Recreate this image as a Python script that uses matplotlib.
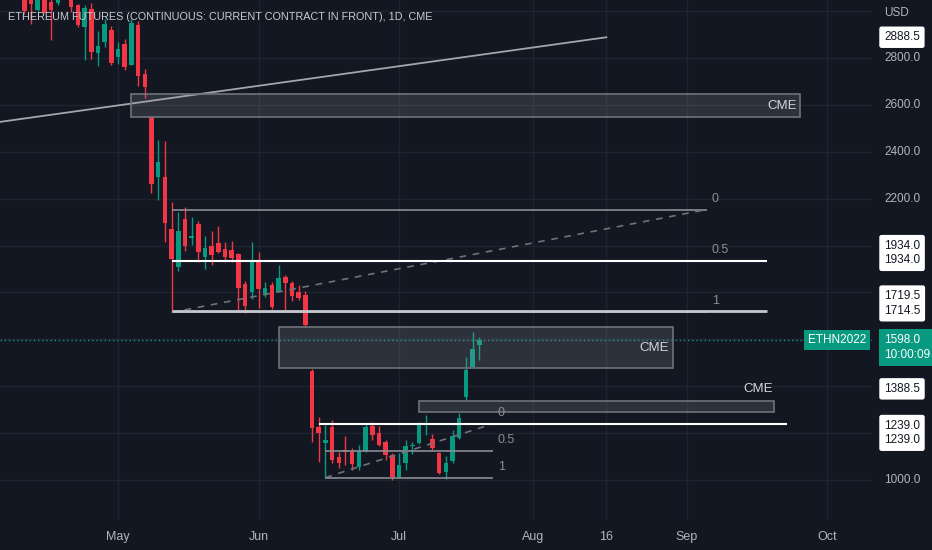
import numpy as np
import matplotlib.pyplot as plt
from matplotlib.patches import Rectangle

plt.rcParams['font.family'] = ['Liberation Sans', 'DejaVu Sans']

# daily bars, index 0 = first May session
first_bar = -14
opens = [3080, 3060, 3005, 3075, 3039, 3035, 3095, 3060, 3026, 2932, 3009, 2821, 2868, 2919,
         2804, 2860, 2770, 2941, 2732, 2548, 2292, 2292, 2070, 1908, 2113, 2032, 2092, 1951,
         1998, 2011, 1985, 1981, 1964, 1836, 1802, 1938, 1789, 1832, 1802, 1866, 1840, 1802,
         1789, 1465, 1226, 1157, 1226, 1098, 1128, 1119, 1055, 1123, 1230, 1200, 1162, 1106,
         1012, 1072, 1145, 1157, 1234, 1175, 1115, 1034, 1081, 1179, 1354, 1482, 1576]
highs = [3110, 3090, 3090, 3100, 3050, 3060, 3120, 3080, 3030, 3026, 3035, 2915, 2966, 2936,
         2868, 2881, 2966, 2958, 2753, 2548, 2450, 2446, 2186, 2143, 2164, 2122, 2105, 2041,
         2062, 2083, 2015, 2019, 1968, 1849, 2015, 1972, 1844, 1844, 1917, 1874, 1849, 1832,
         1806, 1473, 1268, 1234, 1256, 1119, 1187, 1136, 1149, 1239, 1247, 1230, 1170, 1115,
         1115, 1170, 1162, 1247, 1277, 1196, 1119, 1102, 1213, 1286, 1524, 1631, 1610]
lows = [2988, 2945, 3000, 2990, 2877, 3026, 3070, 2996, 2932, 2791, 2796, 2766, 2847, 2770,
        2774, 2749, 2770, 2681, 2629, 2224, 2194, 2015, 1714.5, 1891, 1977, 2002, 1930, 1900,
        1917, 1970, 1930, 1930, 1725, 1714, 1772, 1733, 1780, 1729, 1800, 1716, 1763, 1768,
        1652, 1162, 1077, 1010, 1072, 1051, 1064, 1042, 1042, 1119, 1170, 1145, 1085, 1000,
        1008, 1042, 1111, 1155, 1192, 1128, 1025, 1004, 1072, 1175, 1341, 1480, 1512]
closes = [3002, 3030, 3070, 2992, 3005, 3050, 3080, 3018, 2941, 3013, 2826, 2851, 2945, 2779,
          2838, 2762, 2949, 2723, 2676, 2262, 2356, 2096, 1943, 2062, 1998, 2041, 1972, 1989,
          1960, 1972, 1951, 1947, 1819, 1742, 1930, 1815, 1819, 1738, 1861, 1840, 1785, 1776,
          1661, 1222, 1200, 1170, 1085, 1072, 1119, 1068, 1119, 1226, 1192, 1149, 1106, 1012,
          1064, 1145, 1149, 1239, 1239, 1136, 1030, 1072, 1187, 1264, 1469, 1559, 1598]

tick_pos = [0, 21, 42, 62, 73, 85, 106]
tick_lab = ['May', 'Jun', 'Jul', 'Aug', '16', 'Sep', 'Oct']
grid_levels = np.arange(1000, 3001, 200)
price_ticks = [2800, 2600, 2400, 2200, 1000]

# drawings
trend_x = [-20, 73]
trend_y = [2518, 2888.5]
cme_boxes = [(2, 102, 2548, 2646), (24, 83, 1477, 1652), (45, 98, 1290, 1337)]
cme_free_text = (95.7, 1388.5)
fib_up = {'x': (8, 88), 'levels': [(0, 2153.5), (0.5, 1934.0), (1, 1714.5)]}
fib_low = {'x': (31, 56), 'levels': [(0, 1239.0), (0.5, 1124.5), (1, 1010.0)]}
white_lines = [(1934.0, 8, 97), (1239.0, 30, 100)]
grey_line = (1719.5, 8, 97)

UP, DOWN = '#089981', '#f23645'
BG = '#131722'

bars = np.arange(first_bar, first_bar + len(opens))
o = np.array(opens, float)
c = np.array(closes, float)
col = [UP if cc >= oo else DOWN for oo, cc in zip(o, c)]

fig = plt.figure(figsize=(9.32, 5.5), dpi=100, facecolor=BG)
ax = fig.add_axes([0, 30 / 550, 872 / 932, 520 / 550])
ax.set_facecolor(BG)
ax.set_xlim(-17.64, 112.7)
ax.set_ylim(829, 3047.4)

ax.set_yticks(grid_levels)
ax.set_xticks(tick_pos, tick_lab)
ax.grid(True, color='#1f2330', lw=1)
ax.tick_params(axis='y', length=0, labelleft=False)
ax.tick_params(axis='x', length=0, pad=8, colors='#b2b5be', labelsize=9)
for s in ax.spines.values():
    s.set_visible(False)

# candles
ax.vlines(bars, lows, highs, colors=col, lw=1, zorder=3)
body_h = np.maximum(np.abs(c - o), 5)
ax.bar(bars, body_h, bottom=np.minimum(o, c), width=0.68, color=col, zorder=4)

# trend line
ax.plot(trend_x, trend_y, color='#a3a6af', lw=1.3, zorder=5)

# CME gap boxes
for x0, x1, y0, y1 in cme_boxes:
    ax.add_patch(Rectangle((x0, y0), x1 - x0, y1 - y0, facecolor='#9a9ca3', alpha=0.2,
                           edgecolor='none', zorder=5))
    ax.add_patch(Rectangle((x0, y0), x1 - x0, y1 - y0, facecolor='none',
                           edgecolor='#70737a', lw=1.2, zorder=5))
for x0, x1, y0, y1 in cme_boxes[:2]:
    ax.annotate('CME', (x1, (y0 + y1) / 2), xytext=(-4, 0), textcoords='offset pixels',
                ha='right', va='center', color='#d1d4dc', fontsize=9.5, zorder=6)
ax.text(cme_free_text[0], cme_free_text[1], 'CME', ha='center', va='center',
        color='#d1d4dc', fontsize=9.5, zorder=6)

# fib retracements
for fib in (fib_up, fib_low):
    xa, xb = fib['x']
    for lab, lv in fib['levels']:
        ax.hlines(lv, xa, xb, color='#8a8d96', lw=1.2, zorder=5)
        ax.annotate(f'{lab:g}', (xb, lv), xytext=(5, 5), textcoords='offset pixels',
                    ha='left', va='bottom', color='#8a8d96', fontsize=9, zorder=6)
    lv_hi = fib['levels'][0][1]
    lv_lo = fib['levels'][-1][1]
    ax.plot([xa, xb], [lv_lo, lv_hi], color='#6f727b', lw=1.2, ls=(0, (4, 4)), zorder=5)

ax.hlines(grey_line[0], grey_line[1], grey_line[2], color='#c5c7cd', lw=2, zorder=6)
for lv, xa, xb in white_lines:
    ax.hlines(lv, xa, xb, color='#ffffff', lw=1.5, zorder=6)

# last price line
ax.axhline(closes[-1], color=UP, lw=1, ls=(0, (1, 2)), zorder=2)

# price scale
yt = ax.get_yaxis_transform()
lx = 884 / 872
for p in price_ticks:
    ax.text(lx, p, f'{p:.1f}', transform=yt, ha='left', va='center', color='#b2b5be',
            fontsize=8.5, clip_on=False)
fig.text(884 / 932, 1 - 13 / 550, 'USD', ha='left', va='center', color='#b2b5be', fontsize=8.5)

box = dict(boxstyle='round,pad=0.4,rounding_size=0.2', fc='white', ec='none')
axis_tags = [('2888.5', 2888.5, 0), ('1934.0\n1934.0', 1934.0, 8),
             ('1719.5\n1714.5', 1714.5, 9), ('1388.5', 1388.5, 0), ('1239.0\n1239.0', 1239.0, -9)]
for txt, p, dy in axis_tags:
    ax.annotate(txt, (lx, p), xycoords=yt, xytext=(0, dy), textcoords='offset pixels',
                ha='left', va='center', color='#131722', fontsize=8.5, bbox=box,
                annotation_clip=False, linespacing=1.3)

ax.annotate(f'{closes[-1]:.1f}\n10:00:09', (lx, closes[-1]), xycoords=yt, xytext=(0, -8),
            textcoords='offset pixels', ha='left', va='center', color='white', fontsize=8.5,
            bbox=dict(boxstyle='square,pad=0.45', fc=UP, ec='none'),
            annotation_clip=False, linespacing=1.3)
ax.text(0.993, closes[-1], 'ETHN2022', transform=yt, ha='right', va='center', color='white',
        fontsize=8.5, bbox=dict(boxstyle='square,pad=0.35', fc=UP, ec='none'), zorder=7)

fig.text(8 / 932, 1 - 17 / 550,
         'ETHEREUM FUTURES (CONTINUOUS: CURRENT CONTRACT IN FRONT), 1D, CME',
         ha='left', va='center', color='#c9ccd4', fontsize=7.8)

fig.savefig('out.png', dpi=100, facecolor=BG)
